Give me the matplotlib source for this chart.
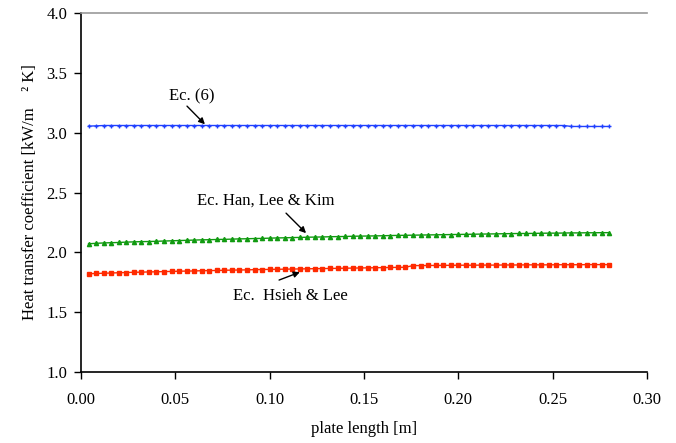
import matplotlib
matplotlib.use("Agg")
import matplotlib.pyplot as plt

plt.rcParams['font.family'] = ['Liberation Serif', 'DejaVu Serif']

# plate length positions [m]
length = [0.004, 0.008, 0.012, 0.016, 0.020, 0.024, 0.028, 0.032, 0.036, 0.040,
          0.044, 0.048, 0.052, 0.056, 0.060, 0.064, 0.068, 0.072, 0.076, 0.080,
          0.084, 0.088, 0.092, 0.096, 0.100, 0.104, 0.108, 0.112, 0.116, 0.120,
          0.124, 0.128, 0.132, 0.136, 0.140, 0.144, 0.148, 0.152, 0.156, 0.160,
          0.164, 0.168, 0.172, 0.176, 0.180, 0.184, 0.188, 0.192, 0.196, 0.200,
          0.204, 0.208, 0.212, 0.216, 0.220, 0.224, 0.228, 0.232, 0.236, 0.240,
          0.244, 0.248, 0.252, 0.256, 0.260, 0.264, 0.268, 0.272, 0.276, 0.280]

# Ec. (6)
h_ec6 = [3.055, 3.057, 3.060, 3.060, 3.060, 3.060, 3.060, 3.060, 3.060, 3.060,
         3.060, 3.060, 3.060, 3.060, 3.060, 3.060, 3.060, 3.060, 3.060, 3.060,
         3.060, 3.060, 3.060, 3.060, 3.060, 3.060, 3.060, 3.060, 3.060, 3.060,
         3.060, 3.060, 3.060, 3.060, 3.060, 3.060, 3.060, 3.060, 3.060, 3.060,
         3.060, 3.060, 3.060, 3.060, 3.060, 3.060, 3.060, 3.060, 3.060, 3.060,
         3.060, 3.060, 3.060, 3.060, 3.060, 3.060, 3.060, 3.060, 3.060, 3.060,
         3.060, 3.060, 3.060, 3.060, 3.052, 3.052, 3.052, 3.052, 3.052, 3.052]

# Ec. Han, Lee & Kim
h_han = [2.072, 2.076, 2.079, 2.081, 2.083, 2.086, 2.088, 2.090, 2.091, 2.093,
         2.095, 2.097, 2.099, 2.101, 2.103, 2.105, 2.106, 2.108, 2.109, 2.111,
         2.113, 2.114, 2.116, 2.117, 2.119, 2.121, 2.122, 2.124, 2.125, 2.127,
         2.128, 2.129, 2.131, 2.132, 2.133, 2.135, 2.136, 2.137, 2.138, 2.139,
         2.141, 2.142, 2.143, 2.144, 2.145, 2.146, 2.147, 2.148, 2.149, 2.150,
         2.151, 2.152, 2.153, 2.154, 2.155, 2.156, 2.157, 2.158, 2.158, 2.159,
         2.160, 2.161, 2.161, 2.162, 2.163, 2.163, 2.164, 2.164, 2.165, 2.165]

# Ec. Hsieh & Lee
h_hsieh = [1.822, 1.824, 1.826, 1.828, 1.830, 1.832, 1.834, 1.835, 1.837, 1.838,
           1.840, 1.841, 1.843, 1.844, 1.845, 1.847, 1.848, 1.849, 1.851, 1.852,
           1.853, 1.854, 1.856, 1.857, 1.858, 1.859, 1.860, 1.861, 1.862, 1.863,
           1.864, 1.865, 1.866, 1.867, 1.868, 1.869, 1.870, 1.871, 1.872, 1.873,
           1.874, 1.875, 1.876, 1.890, 1.890, 1.891, 1.891, 1.892, 1.892, 1.893,
           1.893, 1.893, 1.894, 1.894, 1.894, 1.895, 1.895, 1.895, 1.896, 1.896,
           1.896, 1.896, 1.897, 1.897, 1.897, 1.897, 1.898, 1.898, 1.898, 1.898]

xticks = [0.00, 0.05, 0.10, 0.15, 0.20, 0.25, 0.30]
yticks = [1.0, 1.5, 2.0, 2.5, 3.0, 3.5, 4.0]

fig = plt.figure(figsize=(6.76, 4.43), dpi=100)
ax = fig.add_axes([0.1198, 0.160, 0.8372, 0.8107])

ax.plot(length, h_ec6, color='#2040ff', marker='+', markersize=3, linewidth=1)
ax.plot(length, h_han, color='#109a10', marker='^', markersize=3, linewidth=1)
ax.plot(length, h_hsieh, color='#ff2a00', marker='s', markersize=3, linewidth=1)

ax.set_xlim(0, 0.30)
ax.set_ylim(1.0, 4.0)
ax.set_xticks(xticks)
ax.set_xticklabels(['%.2f' % t for t in xticks])
ax.set_yticks(yticks)
ax.set_yticklabels(['%.1f' % t for t in yticks])
ax.tick_params(direction='out', length=5, width=1, labelsize=12, color='black')
ax.tick_params(axis='x', pad=9)
ax.tick_params(axis='y', pad=5)

ax.spines['right'].set_visible(False)
ax.spines['top'].set_color('#999999')
ax.spines['top'].set_linewidth(1.2)
ax.spines['left'].set_linewidth(1.2)
ax.spines['bottom'].set_linewidth(1.2)

ax.set_xlabel('plate length [m]', fontsize=12, labelpad=10)
ax.set_ylabel('Heat transfer coefficient [kW/m    \u00b2 K]', fontsize=12, labelpad=6)

# curve labels with arrows
arrow = dict(arrowstyle='-|>', color='black', lw=1, mutation_scale=9, shrinkA=0, shrinkB=0)
ax.text(0.0585, 3.30, 'Ec. (6)', fontsize=12, ha='center', va='center')
ax.annotate('', xy=(0.0657, 3.07), xytext=(0.0562, 3.222), arrowprops=arrow)
ax.text(0.098, 2.43, 'Ec. Han, Lee & Kim', fontsize=12, ha='center', va='center')
ax.annotate('', xy=(0.1193, 2.161), xytext=(0.1087, 2.328), arrowprops=arrow)
ax.text(0.111, 1.635, 'Ec.  Hsieh & Lee', fontsize=12, ha='center', va='center')
ax.annotate('', xy=(0.116, 1.835), xytext=(0.105, 1.769), arrowprops=arrow)

fig.savefig('out.png', dpi=100)
